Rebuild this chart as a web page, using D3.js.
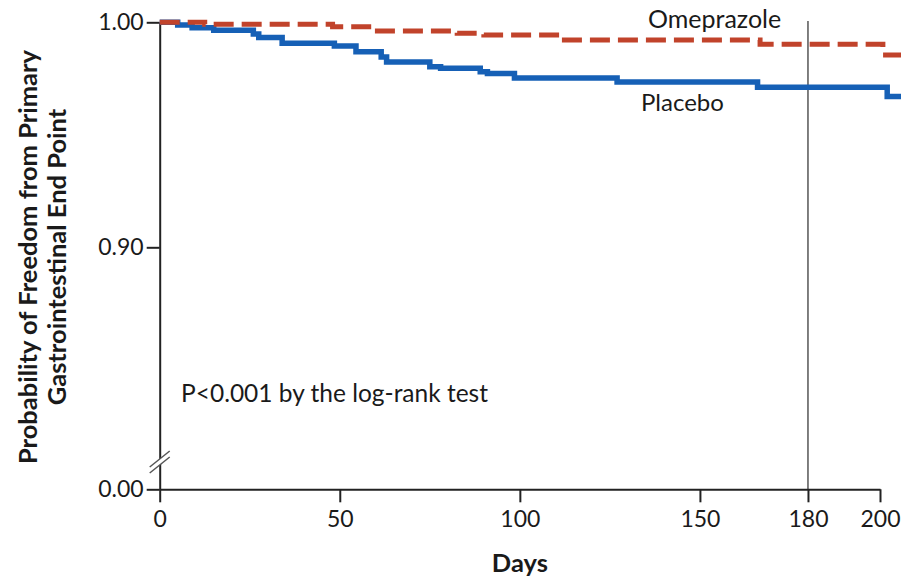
<!DOCTYPE html>
<html>
<head>
<meta charset="utf-8">
<script src="https://cdn.jsdelivr.net/npm/d3@7"></script>
<style>
  body { margin: 0; background: #fff; }
  svg text { font-family: Lato, "Noto Sans", sans-serif; fill: #1a1a1a; }
</style>
</head>
<body>
<div id="chart"></div>
<script>
// Kaplan-Meier steps
var placeboDays = [0, 5, 9, 15, 26, 27.5, 34, 48.5, 54.5, 61.5, 63, 75, 78, 89, 91, 98.5, 127, 166, 202, 206];
var placeboSurv = [1.0, 0.9988, 0.9976, 0.9965, 0.9948, 0.9933, 0.9907, 0.9895, 0.9869, 0.9846, 0.9824, 0.9803, 0.9796, 0.9780, 0.9773, 0.9753, 0.9735, 0.9711, 0.9670, 0.9670];
var omeprazoleDays = [0, 12.5, 48, 59, 82.6, 90, 111, 166.7, 200.8, 206];
var omeprazoleSurv = [1.0, 0.9991, 0.9980, 0.9961, 0.9951, 0.9944, 0.9921, 0.9902, 0.9855, 0.9855];

var xTicks = [0, 50, 100, 150, 180, 200];
var yTicks = [0, 0.9, 1.0];
var refDay = 180;

var width = 901, height = 582;

var svg = d3.select("#chart").append("svg")
  .attr("width", width)
  .attr("height", height);

var x = d3.scaleLinear().domain([0, 200]).range([159.7, 880]);
// broken axis: 0 jumps straight to the 0.90-1.00 band
var y = d3.scaleLinear().domain([0, 0.9, 1.0]).range([489.3, 247.3, 22.3]);

var line = d3.line()
  .x(function(d) { return x(d[0]); })
  .y(function(d) { return y(d[1]); })
  .curve(d3.curveStepAfter);

// reference line at day 180
svg.append("line")
  .attr("x1", x(refDay)).attr("x2", x(refDay))
  .attr("y1", 21).attr("y2", y(0))
  .attr("stroke", "#555")
  .attr("stroke-width", 1.5);

// y axis
var yAxis = svg.append("g")
  .attr("transform", "translate(" + x(0) + ",0)")
  .call(d3.axisLeft(y).tickValues(yTicks).tickFormat(d3.format(".2f")).tickSize(13).tickSizeOuter(0).tickPadding(3));

// x axis
var xAxis = svg.append("g")
  .attr("transform", "translate(0," + y(0) + ")")
  .call(d3.axisBottom(x).tickValues(xTicks).tickSize(13).tickSizeOuter(0).tickPadding(8));

[yAxis, xAxis].forEach(function(g) {
  g.select(".domain").attr("stroke", "#222").attr("stroke-width", 2);
  g.selectAll(".tick line").attr("stroke", "#222").attr("stroke-width", 2);
  g.selectAll(".tick text").attr("font-size", 23).attr("fill", "#1a1a1a")
    .style("font-family", "Lato, 'Noto Sans', sans-serif");
});

// axis break marks
var brk = svg.append("g").attr("transform", "translate(" + x(0) + ",462)");
brk.append("polygon")
  .attr("points", "-10,5 10,-11 10,-5 -10,11")
  .attr("fill", "#fff");
brk.append("line").attr("x1", -10).attr("y1", 5).attr("x2", 10).attr("y2", -11)
  .attr("stroke", "#555").attr("stroke-width", 1.5);
brk.append("line").attr("x1", -10).attr("y1", 11).attr("x2", 10).attr("y2", -5)
  .attr("stroke", "#555").attr("stroke-width", 1.5);

// curves
svg.append("path")
  .datum(d3.zip(placeboDays, placeboSurv))
  .attr("d", line)
  .attr("fill", "none")
  .attr("stroke", "#1660b6")
  .attr("stroke-width", 5.5);

svg.append("path")
  .datum(d3.zip(omeprazoleDays, omeprazoleSurv))
  .attr("d", line)
  .attr("fill", "none")
  .attr("stroke", "#c1432b")
  .attr("stroke-width", 5)
  .attr("stroke-dasharray", "20,8");

// labels
svg.append("text").attr("x", 648).attr("y", 28).attr("font-size", 25).text("Omeprazole");
svg.append("text").attr("x", 641).attr("y", 111).attr("font-size", 24).text("Placebo");
svg.append("text").attr("x", 181).attr("y", 402).attr("font-size", 24.5).text("P<0.001 by the log-rank test");

svg.append("text")
  .attr("x", x(100)).attr("y", 572)
  .attr("text-anchor", "middle")
  .attr("font-size", 25.5).attr("font-weight", "bold")
  .text("Days");

var yl = svg.append("text")
  .attr("transform", "translate(37,257) rotate(-90)")
  .attr("text-anchor", "middle")
  .attr("font-size", 25.5).attr("font-weight", "bold");
yl.append("tspan").attr("x", 0).attr("y", 0).text("Probability of Freedom from Primary");
yl.append("tspan").attr("x", 0).attr("y", 29).text("Gastrointestinal End Point");
</script>
</body>
</html>
